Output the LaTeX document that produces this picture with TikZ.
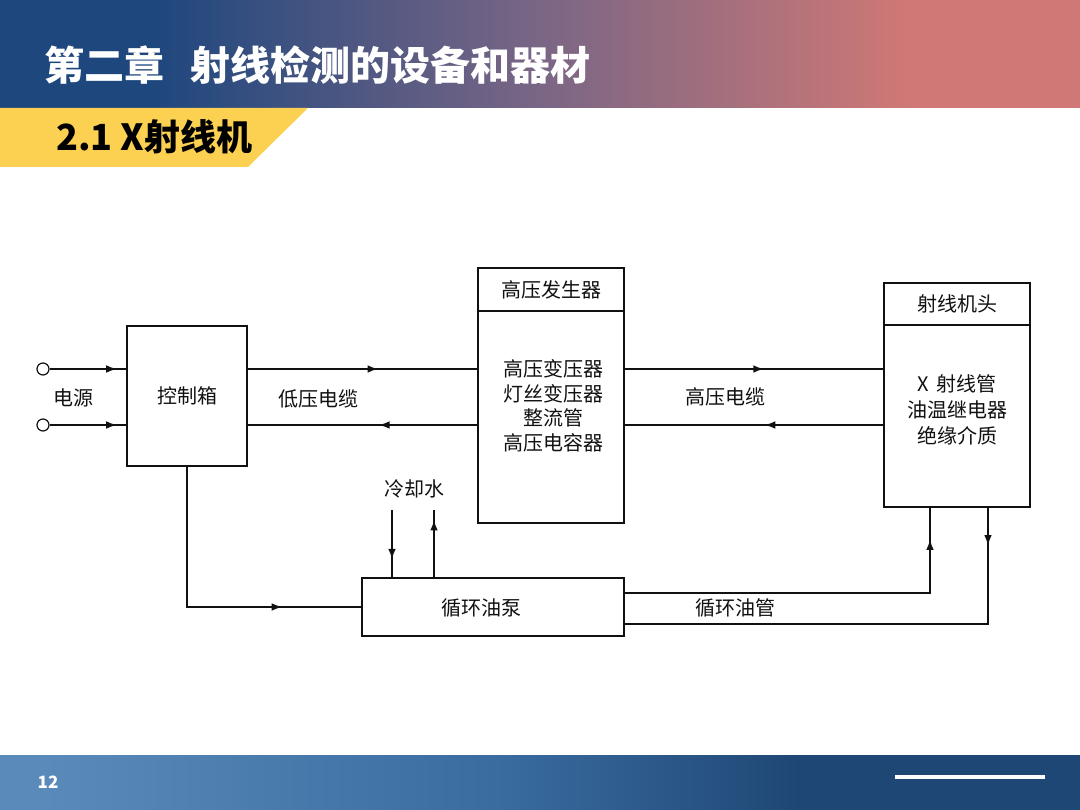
\documentclass[tikz,border=0pt]{standalone}
\usepackage{fontspec}
\setmainfont{Noto Sans CJK SC}
\usetikzlibrary{arrows.meta,decorations.markings}
\definecolor{hdrA}{HTML}{1E477E}
\definecolor{hdrM}{HTML}{7A6685}
\definecolor{hdrB}{HTML}{CF7875}
\definecolor{ftA}{HTML}{5A8ABA}
\definecolor{ftM}{HTML}{3A6CA0}
\definecolor{ftB}{HTML}{1F4775}
\definecolor{tabyellow}{HTML}{FCD152}
\definecolor{ink}{HTML}{111111}
\pgfdeclarehorizontalshading{hdrshade}{100bp}{color(0bp)=(hdrA); color(32bp)=(hdrA); color(50bp)=(hdrM); color(67bp)=(hdrB); color(100bp)=(hdrB)}
\pgfdeclarehorizontalshading{ftshade}{100bp}{color(0bp)=(ftA); color(27bp)=(ftA); color(48bp)=(ftM); color(62bp)=(ftB); color(100bp)=(ftB)}
\begin{document}
\begin{tikzpicture}[x=1pt,y=-1pt,
  box/.style={draw=ink, line width=1.3pt, inner sep=0pt},
  lbl/.style={text=ink, font=\fontsize{20}{24}\selectfont, inner sep=0pt, align=center},
  wire/.style={draw=ink, line width=1.3pt},
  midarr/.style={postaction={decorate}, decoration={markings, mark=at position #1 with {\arrow[scale=2.2]{Latex[length=5pt,width=3.5pt]}}}},
  pinc/.style={circle, draw=ink, line width=1.2pt, minimum size=12pt, inner sep=0pt}]
\useasboundingbox (0,0) rectangle (1080,810);
\fill[white] (0,0) rectangle (1080,810);
% header
\shade[shading=hdrshade] (0,0) rectangle (1080,108);
\fill[tabyellow] (0,108) -- (308,108) -- (248,167) -- (0,167) -- cycle;
\node[anchor=west, text=white, font=\bfseries\fontsize{40}{44}\selectfont, inner sep=0pt] (title) at (44,65) {第二章\hspace{0.65em}射线检测的设备和器材};
\node[anchor=west, text=black, font=\bfseries\fontsize{36}{40}\selectfont, inner sep=0pt] (sub) at (56,137) {2.1 X射线机};
% footer
\shade[shading=ftshade] (0,755) rectangle (1080,810);
\node[text=white, font=\bfseries\fontsize{17}{18}\selectfont, inner sep=0pt] (pg) at (48,782) {12};
\draw[white, line width=4pt] (895,777) -- (1045,777);
% boxes
\node[box, minimum width=120pt, minimum height=140pt] (ctrl) at (187,396) {};
\node[lbl] (ctrlt) at (187,396) {控制箱};
\node[box, minimum width=146pt, minimum height=43pt] (hvt) at (551,289.5) {};
\node[lbl] (hvtt) at (551,290) {高压发生器};
\node[box, minimum width=146pt, minimum height=212pt] (hvb) at (551,417) {};
\node[lbl, text width=146pt, font=\fontsize{20}{24.5}\selectfont] (hvbt) at (553,406) {高压变压器\\灯丝变压器\\整流管\\高压电容器};
\node[box, minimum width=146pt, minimum height=42pt] (xt) at (957,304) {};
\node[lbl] (xtt) at (957,304) {射线机头};
\node[box, minimum width=146pt, minimum height=182pt] (xb) at (957,416) {};
\node[lbl, text width=146pt, font=\fontsize{20}{26}\selectfont] (xbt) at (957,410) {X 射线管\\油温继电器\\绝缘介质};
\node[box, minimum width=262pt, minimum height=58pt] (pump) at (493,607) {};
\node[lbl] (pumpt) at (481,608) {循环油泵};
% labels
\node[lbl] (src) at (73,398) {电源};
\node[lbl] (lvc) at (318,399) {低压电缆};
\node[lbl] (hvc) at (725,397) {高压电缆};
\node[lbl] (cw) at (414,489) {冷却水};
\node[lbl] (oilp) at (735,608) {循环油管};
% power input
\node[pinc] (pin1) at (43,369) {};
\node[pinc] (pin2) at (43,425) {};
\draw[wire, midarr=0.88] (pin1.east) -- (pin1 -| ctrl.west);
\draw[wire, midarr=0.88] (pin2.east) -- (pin2 -| ctrl.west);
% low voltage cable
\draw[wire, midarr=0.57] (pin1 -| ctrl.east) -- (pin1 -| hvb.west);
\draw[wire, midarr=0.43] (pin2 -| hvb.west) -- (pin2 -| ctrl.east);
% high voltage cable
\draw[wire, midarr=0.54] (pin1 -| hvb.east) -- (pin1 -| xb.west);
\draw[wire, midarr=0.46] (pin2 -| xb.west) -- (pin2 -| hvb.east);
% control box to pump
\draw[wire, midarr=0.75] (ctrl.south) |- (pump.west);
% cooling water
\coordinate (cwin) at (392,510);
\coordinate (cwout) at (434,510);
\draw[wire, midarr=0.74] (cwin) -- (cwin |- pump.north);
\draw[wire, midarr=0.86] (cwout |- pump.north) -- (cwout);
% oil pipes
\draw[wire, midarr=0.92] ([yshift=-15.5pt]pump.north east) -| ([xshift=-27pt]xb.south);
\draw[wire, midarr=0.08] ([xshift=31pt]xb.south) |- ([yshift=-17pt]pump.east);
\end{tikzpicture}
\end{document}
